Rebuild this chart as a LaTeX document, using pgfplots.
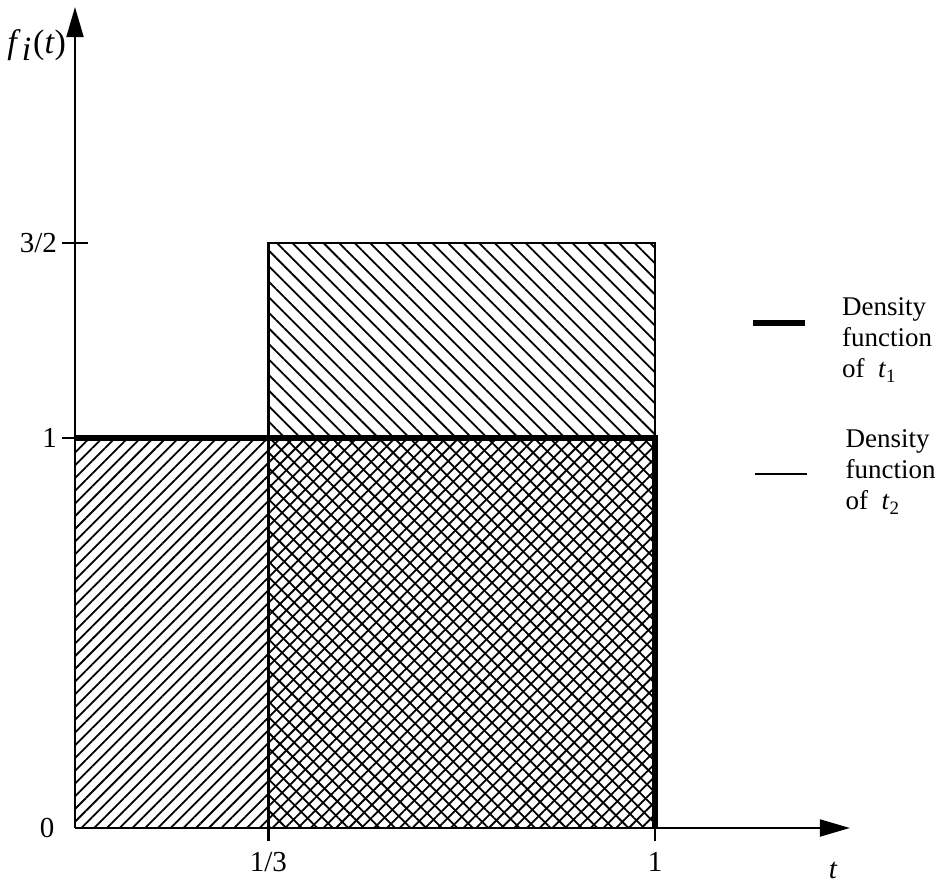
\documentclass[border=0pt]{standalone}
\usepackage{fontspec}
\setmainfont{Liberation Serif}
\usepackage{pgfplots}
\pgfplotsset{compat=1.18}
\usetikzlibrary{patterns.meta, arrows.meta}
\begin{document}
\begin{tikzpicture}
\useasboundingbox (-37.5pt,-28pt) rectangle (433.5pt,414pt);
\begin{axis}[
  anchor=origin, at={(0pt,0pt)},
  x=290pt, y=195pt,
  xmin=0, xmax=1.336, ymin=0, ymax=2.105,
  enlargelimits=false,
  axis lines=left,
  axis line style={line width=1pt, -{Triangle[length=15pt,width=8.5pt]}},
  xtick={0.333333,1}, xticklabels={1/3,1},
  ytick={1,1.5}, yticklabels={1,3/2},
  tick align=center, major tick length=13pt,
  tick style={line width=1.3pt, black},
  tick label style={font=\fontsize{14.5}{16}\selectfont},
  /pgf/number format/assume math mode=true,
  xticklabel style={yshift=-2pt},
  yticklabel style={xshift=1pt},
  clip=false,
]
% densities (hatched areas)
\addplot[draw=none, mark=none, pattern={Lines[angle=45,distance=4.5pt,line width=0.9pt]}]
  coordinates {(0,1) (1,1)} \closedcycle;
\addplot[draw=none, mark=none, pattern={Lines[angle=-45,distance=5.5pt,line width=0.9pt]}]
  coordinates {(0.333333,1.5) (1,1.5)} \closedcycle;
% density of t2 (thin)
\addplot[mark=none, line width=1.4pt] coordinates {(0.333333,0) (0.333333,1.5) (1,1.5) (1,1)};
% density of t1 (thick)
\addplot[mark=none, line width=3pt] coordinates {(0,1) (1,1) (1,0)};
% legend samples
\draw[line width=3pt] (axis cs:1.169,1.295) -- (axis cs:1.259,1.295);
\draw[line width=1pt] (axis cs:1.172,0.908) -- (axis cs:1.262,0.908);
\node[anchor=west, align=left, inner sep=0pt, font=\fontsize{13.5}{15.5}\selectfont]
  at (axis cs:1.322,1.251) {Density\\function\\of\ \ \textit{t}\textsubscript{1}};
\node[anchor=west, align=left, inner sep=0pt, font=\fontsize{13.5}{15.5}\selectfont]
  at (axis cs:1.328,0.913) {Density\\function\\of\ \ \textit{t}\textsubscript{2}};
% labels
\node[font=\fontsize{17}{20}\selectfont] at (axis cs:-0.066,2.008)
  {\textit{f}\kern0.5pt\raisebox{-0.45ex}{\textit{i}}\kern1pt(\textit{t})};
\node[font=\fontsize{14.5}{16}\selectfont] at (axis cs:1.307,-0.108) {\textit{t}};
\node[font=\fontsize{14.5}{16}\selectfont] at (axis cs:-0.048,0) {0};
\end{axis}
\end{tikzpicture}
\end{document}
